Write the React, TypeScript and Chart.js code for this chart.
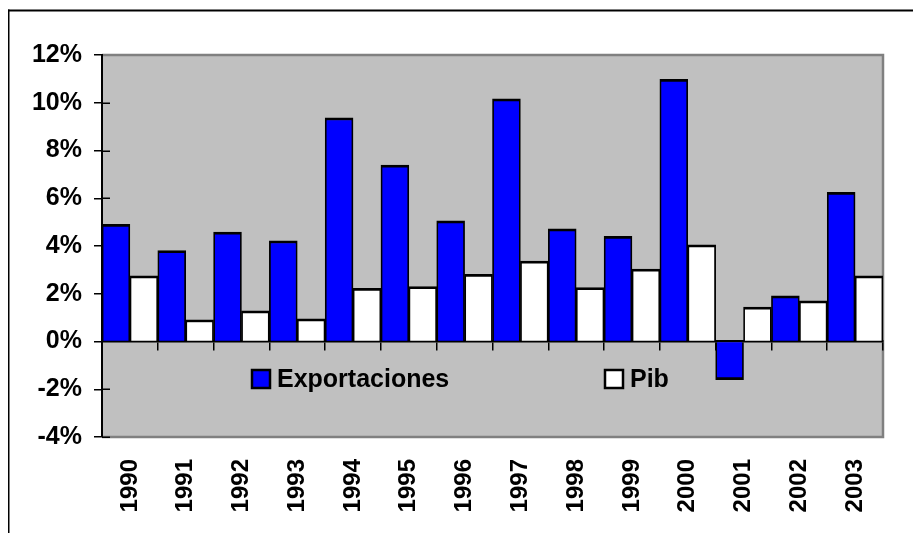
import React, { useEffect, useRef } from "react";
import { Chart, registerables } from "chart.js";

Chart.register(...registerables);

const years = ["1990", "1991", "1992", "1993", "1994", "1995", "1996", "1997", "1998", "1999", "2000", "2001", "2002", "2003"];
const exportaciones = [4.91, 3.81, 4.58, 4.22, 9.37, 7.39, 5.05, 10.16, 4.72, 4.4, 10.98, -1.6, 1.91, 6.25];
const pib = [2.75, 0.91, 1.28, 0.95, 2.23, 2.3, 2.81, 3.37, 2.26, 3.03, 4.05, 1.44, 1.7, 2.75];
const yTickValues = [-4, -2, 0, 2, 4, 6, 8, 10, 12];
const seriesNames = ["Exportaciones", "Pib"];
const seriesColors = ["#0000FF", "#FFFFFF"];

const FONT = "'Liberation Sans', Arial, sans-serif";
const BAR_BORDER = { top: 2.75, bottom: 2.75, left: 1.75, right: 1.75 };

const decor = {
  id: "decor",
  beforeDraw(chart: any) {
    const { ctx, chartArea: a, width, height } = chart;
    ctx.save();
    ctx.fillStyle = "#FFFFFF";
    ctx.fillRect(0, 0, width, height);
    ctx.fillStyle = "#000000";
    ctx.fillRect(0, 1.5, width, 2);
    ctx.fillRect(0, 1.5, 1.5, height);
    ctx.fillStyle = "#C0C0C0";
    ctx.fillRect(a.left, a.top, a.right - a.left, a.bottom - a.top);
    ctx.strokeStyle = "#808080";
    ctx.lineWidth = 2.5;
    ctx.beginPath();
    ctx.moveTo(a.left, a.top);
    ctx.lineTo(a.right, a.top);
    ctx.lineTo(a.right, a.bottom);
    ctx.lineTo(a.left, a.bottom);
    ctx.stroke();
    ctx.restore();
  },
  beforeDatasetsDraw(chart: any) {
    const { ctx, chartArea: a } = chart;
    const y = chart.scales.y;
    ctx.save();
    ctx.strokeStyle = "#000000";
    ctx.lineWidth = 1.5;
    y.ticks.forEach((t: any) => {
      if (t.value === 0 || t.value === y.max) return;
      const py = Math.round(y.getPixelForValue(t.value)) + 0.25;
      ctx.beginPath();
      ctx.moveTo(a.left, py);
      ctx.lineTo(a.left + 8, py);
      ctx.stroke();
    });
    ctx.restore();
  },
  afterDraw(chart: any) {
    const { ctx, chartArea: a } = chart;
    const cy = a.top + 324;
    const xs = [a.left + 150, a.left + 503];
    ctx.save();
    ctx.font = `bold 25px ${FONT}`;
    ctx.textBaseline = "middle";
    ctx.textAlign = "left";
    chart.data.datasets.forEach((ds: any, i: number) => {
      const x = xs[i];
      ctx.fillStyle = ds.backgroundColor;
      ctx.fillRect(x, cy - 9, 18, 18);
      ctx.strokeStyle = "#000000";
      ctx.lineWidth = 2.5;
      ctx.strokeRect(x, cy - 9, 18, 18);
      ctx.fillStyle = "#000000";
      ctx.fillText(ds.label, x + 25, cy + 1);
    });
    ctx.restore();
  },
};

export default function App() {
  const ref = useRef<HTMLCanvasElement | null>(null);

  useEffect(() => {
    if (!ref.current) return;
    Chart.defaults.font.family = FONT;
    const chart = new Chart(ref.current, {
      type: "bar",
      data: {
        labels: years,
        datasets: [
          {
            label: seriesNames[0],
            data: exportaciones,
            backgroundColor: seriesColors[0],
            borderColor: "#000000",
            borderWidth: BAR_BORDER,
            categoryPercentage: 1,
            barPercentage: 1,
            xAxisID: "x",
          },
          {
            label: seriesNames[1],
            data: pib,
            backgroundColor: seriesColors[1],
            borderColor: "#000000",
            borderWidth: BAR_BORDER,
            categoryPercentage: 1,
            barPercentage: 1,
            xAxisID: "x",
          },
        ],
      },
      options: {
        animation: false,
        responsive: true,
        maintainAspectRatio: false,
        layout: { padding: { top: 47, right: 38, left: 0, bottom: 0 } },
        plugins: {
          legend: { display: false },
          tooltip: { enabled: false },
        },
        scales: {
          x: {
            type: "category",
            position: "bottom",
            offset: true,
            grid: { display: false, drawTicks: false, offset: true },
            border: { display: false },
            ticks: {
              color: "#000000",
              font: { size: 24, weight: "bold", family: FONT },
              minRotation: 90,
              maxRotation: 90,
              autoSkip: false,
              padding: 22,
            },
            afterFit: (s: any) => {
              s.height = 96;
            },
          },
          x2: {
            type: "category",
            axis: "x",
            position: { y: 0 },
            offset: true,
            z: 1,
            ticks: { display: false },
            grid: {
              offset: true,
              drawOnChartArea: false,
              drawTicks: true,
              tickLength: 8,
              color: "#000000",
              lineWidth: 1.5,
            },
            border: { display: true, color: "#000000", width: 2.5 },
          },
          y: {
            type: "linear",
            min: -4,
            max: 12,
            z: 1,
            afterBuildTicks: (s: any) => {
              s.ticks = yTickValues.map((v) => ({ value: v }));
            },
            ticks: {
              color: "#000000",
              font: { size: 25, weight: "bold", family: FONT },
              padding: 12,
              callback: (v: any) => `${v}%`,
            },
            grid: {
              drawOnChartArea: false,
              drawTicks: true,
              tickLength: 8,
              color: "#000000",
              lineWidth: 1.5,
            },
            border: { display: true, color: "#000000", width: 2 },
            afterFit: (s: any) => {
              s.width = 94;
            },
          },
        },
      } as any,
      plugins: [decor],
    });
    return () => chart.destroy();
  }, []);

  return (
    <div style={{ position: "relative", width: 913, height: 525 }}>
      <canvas ref={ref} />
    </div>
  );
}
